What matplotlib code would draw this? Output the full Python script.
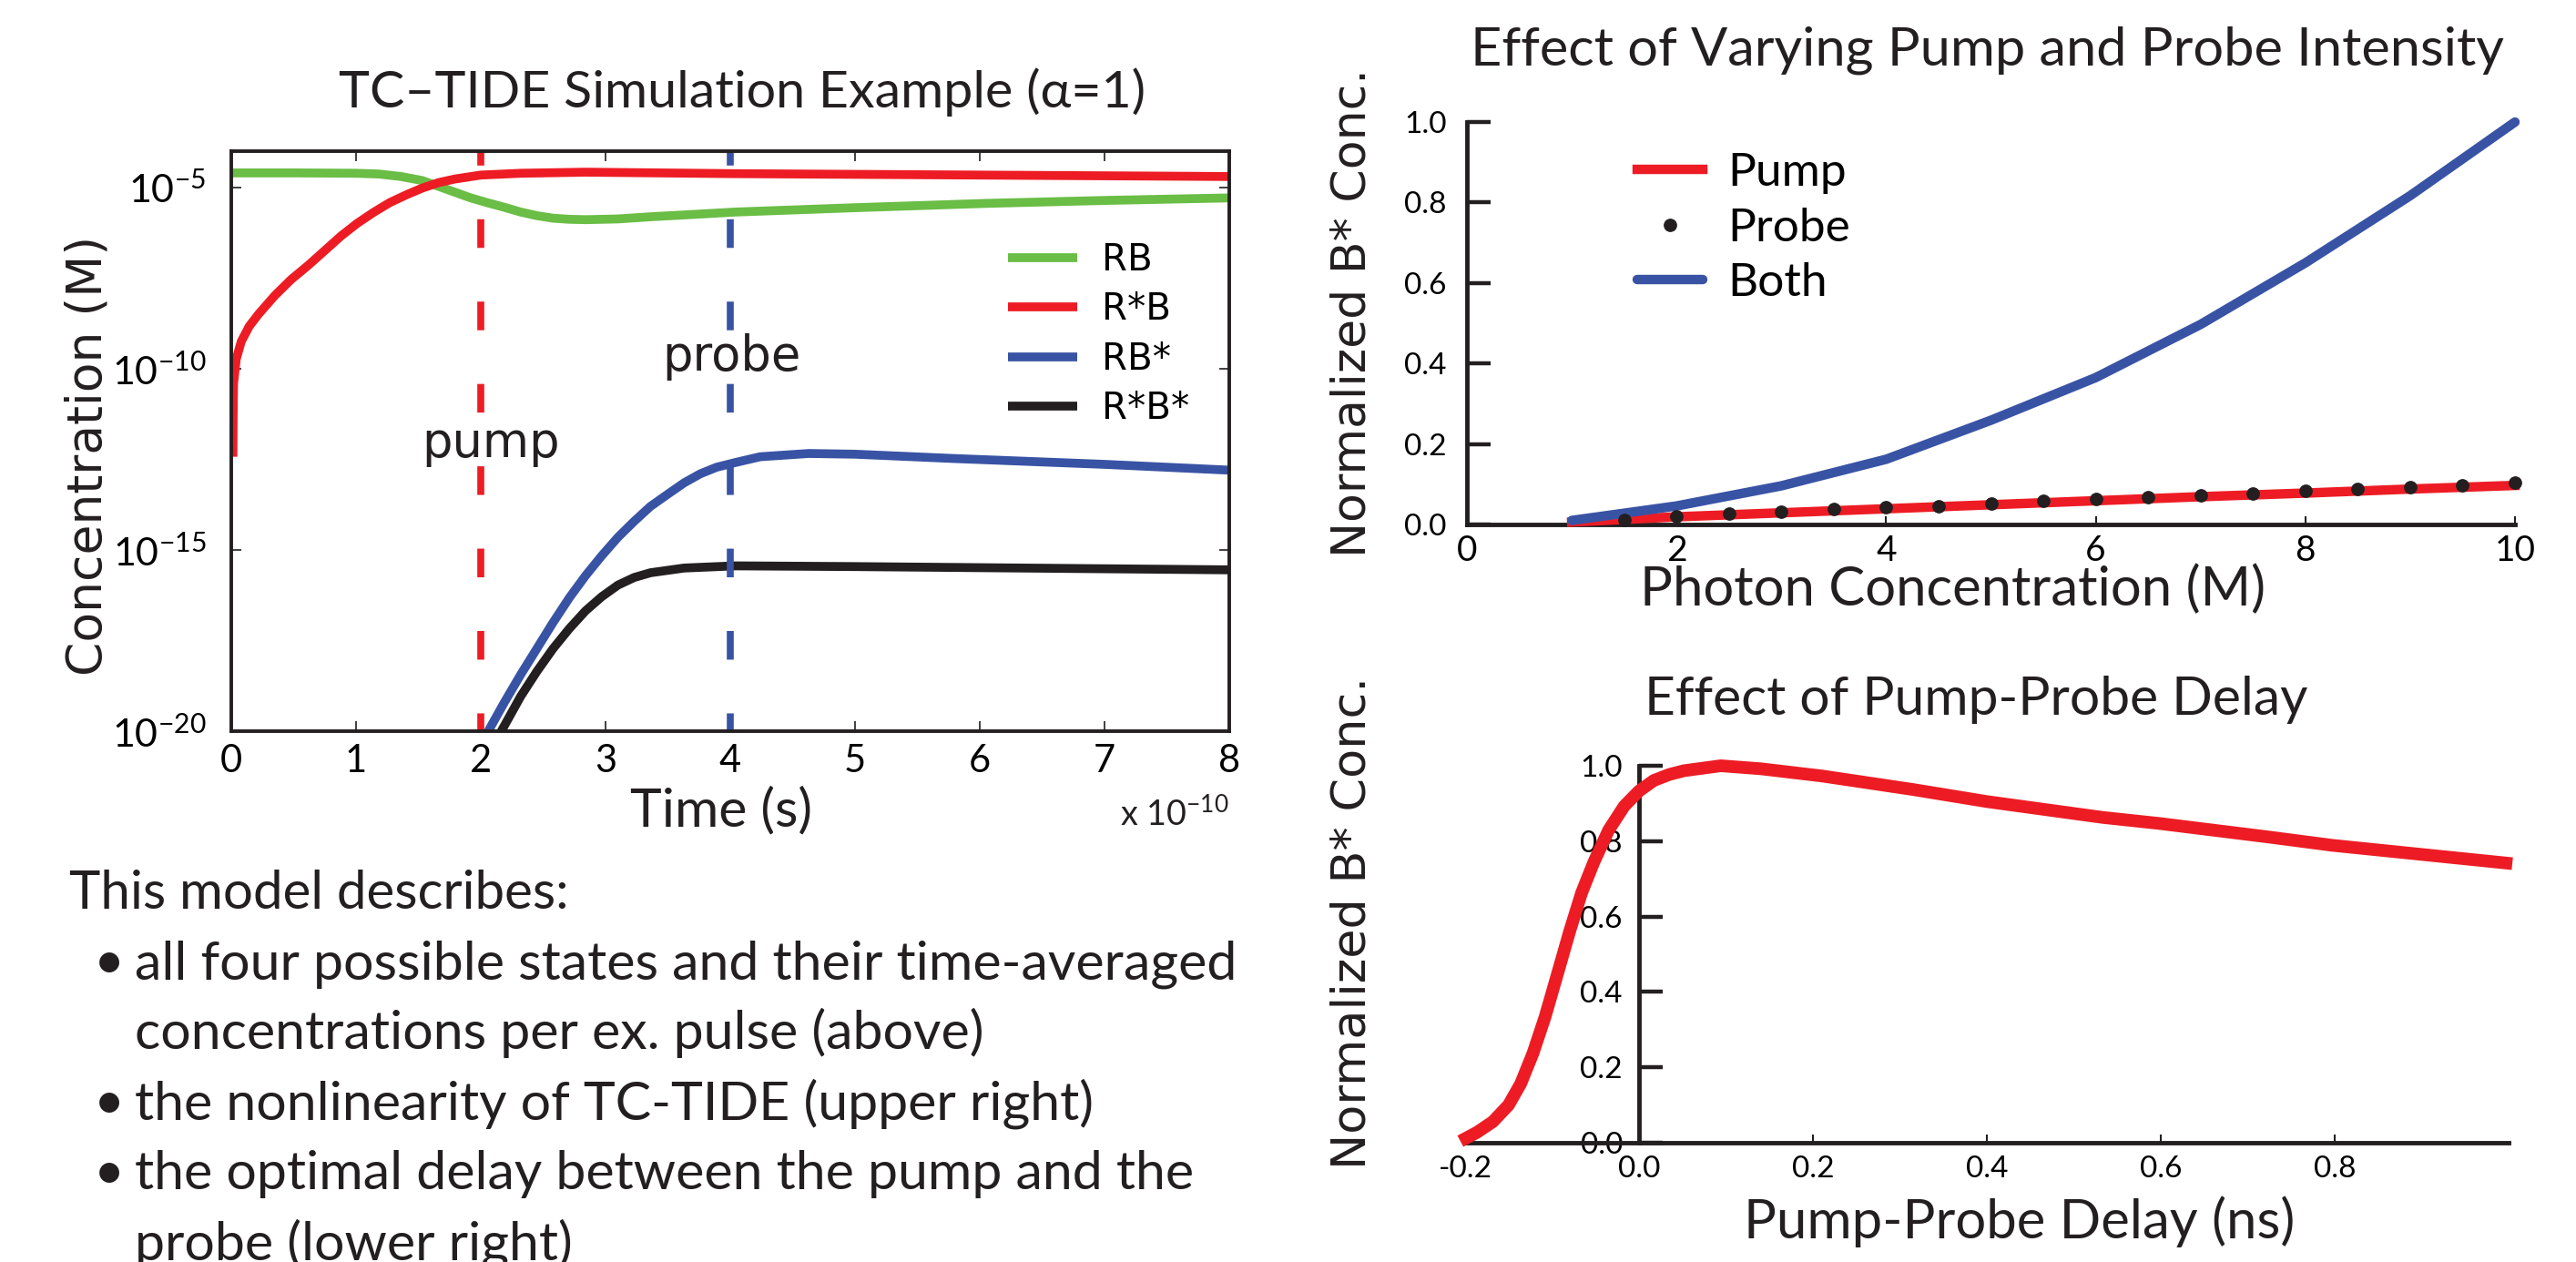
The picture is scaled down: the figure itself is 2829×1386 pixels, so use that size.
import numpy as np
import matplotlib
matplotlib.use("Agg")
import matplotlib.pyplot as plt
from matplotlib.ticker import NullLocator, FixedLocator

SANS = ["Lato", "DejaVu Sans"]
GEO = ["DejaVu Sans"]
plt.rcParams["font.family"] = SANS
plt.rcParams["mathtext.fontset"] = "custom"
plt.rcParams["mathtext.rm"] = "Lato"
plt.rcParams["mathtext.it"] = "Lato:italic"

GREEN = "#6abd45"
RED = "#ed1c24"
BLUE = "#3953a4"
BLACK = "#231f20"

# --- left panel: simulated concentrations (time in units of 1e-10 s, log10 of M)
t_rb = [0.0, 0.5, 1.0, 1.18, 1.36, 1.53, 1.66, 1.79, 1.92, 2.05, 2.19, 2.32, 2.45, 2.58,
        2.71, 2.84, 3.10, 3.36, 3.63, 4.04, 5.0, 6.06, 7.0, 8.0]
log_rb = [-4.60, -4.60, -4.61, -4.63, -4.70, -4.81, -4.97, -5.13, -5.29, -5.42, -5.55, -5.68,
          -5.78, -5.85, -5.88, -5.89, -5.87, -5.81, -5.76, -5.68, -5.56, -5.44, -5.36, -5.29]

t_rsb = [0.013, 0.015, 0.018, 0.04, 0.08, 0.144, 0.22, 0.35, 0.48, 0.62, 0.75, 0.88, 1.01,
         1.14, 1.27, 1.40, 1.53, 1.66, 1.79, 2.0, 2.32, 2.84, 4.0, 6.0, 8.0]
log_rsb = [-12.43, -11.3, -10.42, -9.73, -9.25, -8.83, -8.49, -7.98, -7.54, -7.14, -6.74,
           -6.34, -5.99, -5.69, -5.42, -5.21, -5.02, -4.87, -4.77, -4.66, -4.61, -4.58,
           -4.62, -4.66, -4.70]

t_rbs = [2.055, 2.19, 2.32, 2.45, 2.58, 2.71, 2.84, 2.97, 3.10, 3.23, 3.36, 3.50, 3.63, 3.76,
         3.89, 4.04, 4.24, 4.63, 5.0, 5.8, 7.0, 8.0]
log_rbs = [-20.03, -19.20, -18.44, -17.72, -17.0, -16.32, -15.71, -15.16, -14.65, -14.21,
           -13.80, -13.46, -13.15, -12.90, -12.72, -12.59, -12.43, -12.34, -12.36, -12.48,
           -12.64, -12.80]

t_rsbs = [2.16, 2.32, 2.45, 2.58, 2.71, 2.84, 2.97, 3.10, 3.23, 3.36, 3.63, 4.04, 5.0, 6.0,
          7.0, 8.0]
log_rsbs = [-20.03, -19.04, -18.35, -17.72, -17.17, -16.68, -16.29, -15.97, -15.76, -15.63,
            -15.50, -15.44, -15.46, -15.49, -15.52, -15.55]

pump_time = 2.0
probe_time = 4.0

# --- upper right: intensity sweep
photon_conc = [1, 2, 3, 4, 5, 6, 7, 8, 9, 10]
pump_only = [0.006, 0.019, 0.029, 0.039, 0.049, 0.059, 0.069, 0.078, 0.088, 0.097]
both = [0.010, 0.046, 0.096, 0.162, 0.259, 0.365, 0.497, 0.650, 0.817, 1.0]
probe_conc = [1.5, 2, 2.5, 3, 3.5, 4, 4.5, 5, 5.5, 6, 6.5, 7, 7.5, 8, 8.5, 9, 9.5, 10]
probe_only = [0.012, 0.020, 0.027, 0.032, 0.038, 0.043, 0.046, 0.051, 0.058,
              0.064, 0.068, 0.073, 0.078, 0.083, 0.088, 0.093, 0.098, 0.104]

# --- lower right: delay sweep
delay = [-0.199, -0.186, -0.168, -0.150, -0.136, -0.122, -0.108, -0.094, -0.080, -0.066,
         -0.052, -0.035, -0.017, 0.0, 0.017, 0.035, 0.052, 0.094, 0.140, 0.210, 0.315,
         0.40, 0.533, 0.598, 0.724, 0.797, 0.997]
delay_conc = [0.012, 0.028, 0.056, 0.10, 0.157, 0.237, 0.334, 0.446, 0.559, 0.663,
              0.744, 0.829, 0.893, 0.933, 0.961, 0.977, 0.987, 1.0, 0.992, 0.973, 0.937,
              0.905, 0.863, 0.847, 0.811, 0.789, 0.742]

intro = "This model describes:"
bullets = [
    "all four possible states and their time-averaged",
    "concentrations per ex. pulse (above)",
    "the nonlinearity of TC-TIDE (upper right)",
    "the optimal delay between the pump and the",
    "probe (lower right)",
]
has_bullet = [True, False, True, True, False]

W, H = 2829, 1386
fig = plt.figure(figsize=(W / 100, H / 100), dpi=100, facecolor="white")
renderer = fig.canvas.get_renderer()


def px_axes(l, t, r, b):
    return fig.add_axes([l / W, 1 - b / H, (r - l) / W, (b - t) / H])


def ptext(x, y, s, size, width=None, **kw):
    """Figure text placed in pixel coords (from top-left); optionally fitted to a width."""
    kw.setdefault("color", BLACK)
    t = fig.text(x / W, 1 - y / H, s, fontsize=size, **kw)
    if width:
        bb = t.get_window_extent(renderer)
        cur = bb.height if kw.get("rotation") == 90 else bb.width
        t.set_fontsize(size * width / cur)
    return t


dash_style = (1.56, (4.12, 7.72))

# ================= left panel =================
ax = px_axes(254, 166, 1350, 803)
lw = 7
ax.plot(t_rb, 10.0 ** np.array(log_rb), color=GREEN, lw=lw, label="RB", solid_capstyle="butt")
ax.plot(t_rsb, 10.0 ** np.array(log_rsb), color=RED, lw=lw, label="R*B", solid_capstyle="butt")
ax.plot(t_rbs, 10.0 ** np.array(log_rbs), color=BLUE, lw=lw, label="RB*", solid_capstyle="butt")
ax.plot(t_rsbs, 10.0 ** np.array(log_rsbs), color=BLACK, lw=lw, label="R*B*", solid_capstyle="butt")
ax.axvline(pump_time, color=RED, lw=5.5, linestyle=dash_style, dash_capstyle="butt")
ax.axvline(probe_time, color=BLUE, lw=5.5, linestyle=dash_style, dash_capstyle="butt")
ax.set_yscale("log")
ax.set_xlim(0, 8)
ax.set_ylim(1e-20, 1e-4)
ax.yaxis.set_major_locator(FixedLocator([1e-20, 1e-15, 1e-10, 1e-5]))
ax.yaxis.set_minor_locator(NullLocator())
ax.set_xticks(range(9))
ax.tick_params(direction="in", top=True, right=True, length=8, width=1.2, color=BLACK)
ax.tick_params(axis="x", labelsize=30, pad=10)
ax.tick_params(axis="y", labelsize=31, pad=20)
for s in ax.spines.values():
    s.set_linewidth(2.8)
    s.set_color(BLACK)
ax.text(2.08, 10 ** -12.06, "pump", ha="center", va="center", fontsize=38, family=GEO, color=BLACK)
ax.text(4.01, 10 ** -9.68, "probe", ha="center", va="center", fontsize=38, family=GEO, color=BLACK)
ax.legend(loc="upper left", bbox_to_anchor=(0.778, 0.843), frameon=False,
          prop={"family": GEO, "size": 29}, handlelength=1.89, handletextpad=0.67,
          labelspacing=0.355, borderpad=0, borderaxespad=0)

ptext(815, 118, "TC\u2013TIDE Simulation Example (\u03b1=1)", 41, width=888,
      ha="center", va="baseline")
ptext(792, 907, "Time (s)", 44, width=200, ha="center", va="baseline")
ptext(1350, 907, r"x 10$^{-10}$", 26, width=120, ha="right", va="baseline")
ptext(96, 500, "Concentration (M)", 38, width=483, ha="center", va="center",
      rotation=90, family=GEO)

# ================= upper right =================
ax2 = px_axes(1611, 134, 2762, 576)
ax2.plot(photon_conc, pump_only, color=RED, lw=7.5, label="Pump", clip_on=False, zorder=3)
ax2.plot(probe_conc, probe_only, "o", color=BLACK, ms=9.6, label="Probe", clip_on=False, zorder=4)
ax2.plot(photon_conc, both, color=BLUE, lw=7.5, label="Both", clip_on=False, zorder=3,
         solid_capstyle="round")
ax2.set_xlim(0, 10)
ax2.set_ylim(0, 1.0)
ax2.set_xticks(range(0, 11, 2))
ax2.set_yticks(np.arange(0, 1.01, 0.2))
ax2.yaxis.set_major_formatter(plt.FormatStrFormatter("%.1f"))
for k in ("top", "right"):
    ax2.spines[k].set_visible(False)
for k in ("left", "bottom"):
    ax2.spines[k].set_linewidth(3.5)
    ax2.spines[k].set_color(BLACK)
ax2.tick_params(axis="y", direction="in", length=19, width=3.2, labelsize=24, pad=16, color=BLACK)
ax2.tick_params(axis="x", direction="in", length=6.5, width=1.5, labelsize=28, pad=8, color=BLACK)
ax2.legend(loc="upper left", bbox_to_anchor=(0.1625, 0.925), frameon=False, fontsize=37,
           handlelength=1.40, handletextpad=0.53, labelspacing=0.28, borderpad=0,
           borderaxespad=0, numpoints=1)

ptext(2182, 71, "Effect of Varying Pump and Probe Intensity", 42, width=1135,
      ha="center", va="baseline")
ptext(2145, 665, "Photon Concentration (M)", 43, width=688, ha="center", va="baseline")
ptext(1486, 344, "Normalized B* Conc.", 40, width=536, ha="center", va="center",
      rotation=90, family=GEO)

# ================= lower right =================
ax3 = px_axes(1609, 841, 2755, 1255)
ax3.plot(delay, delay_conc, color=RED, lw=10, clip_on=False, zorder=3)
ax3.set_xlim(-0.2, 1.0)
ax3.set_ylim(0, 1.0)
ax3.set_xticks([-0.2, 0.0, 0.2, 0.4, 0.6, 0.8])
ax3.set_yticks(np.arange(0, 1.01, 0.2))
ax3.xaxis.set_major_formatter(plt.FormatStrFormatter("%.1f"))
ax3.yaxis.set_major_formatter(plt.FormatStrFormatter("%.1f"))
for k in ("top", "right"):
    ax3.spines[k].set_visible(False)
ax3.spines["left"].set_position(("data", 0))
for k in ("left", "bottom"):
    ax3.spines[k].set_linewidth(3.5)
    ax3.spines[k].set_color(BLACK)
ax3.tick_params(axis="y", direction="in", length=19, width=3.2, labelsize=24, pad=13, color=BLACK)
ax3.tick_params(axis="x", direction="in", length=6.5, width=1.5, labelsize=24, pad=10, color=BLACK)

ptext(2170, 785, "Effect of Pump-Probe Delay", 42, width=729, ha="center", va="baseline")
ptext(2218, 1360, "Pump-Probe Delay (ns)", 43, width=606, ha="center", va="baseline")
ptext(1486, 1014, "Normalized B* Conc.", 40, width=540, ha="center", va="center",
      rotation=90, family=GEO)

# ================= description text =================
ptext(76, 998, intro, 42, width=549, va="baseline")
first = ptext(148, 1075, bullets[0], 42, width=1210, va="baseline")
body_size = first.get_fontsize()
base = 1075
for i, (line, b) in enumerate(zip(bullets, has_bullet)):
    y = base + 77 * i
    if b:
        ptext(103, y, "\u2022", body_size, va="baseline", ha="left")
    if i > 0:
        ptext(148, y, line, body_size, va="baseline")

fig.savefig("out.png", dpi=100, facecolor="white")
